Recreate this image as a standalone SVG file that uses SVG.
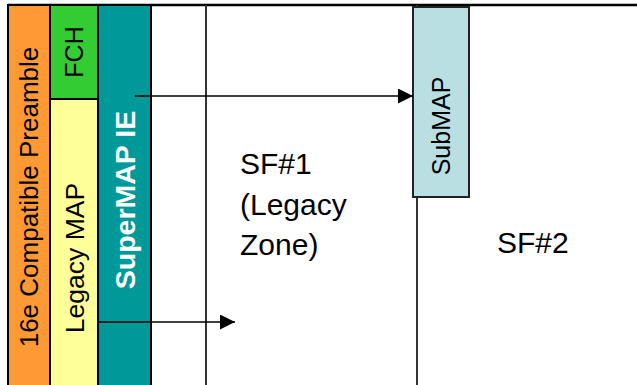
<svg xmlns="http://www.w3.org/2000/svg" width="637" height="385" viewBox="0 0 637 385">
  <style>
    .lbl { font-family: "Liberation Sans", Arial, sans-serif; fill: #000; }
    .box { stroke: #000; stroke-width: 2; }
    .wire { stroke: #000; stroke-width: 1.6; fill: none; }
    .div { stroke: #333; stroke-width: 2; fill: none; }
  </style>
  <defs>
    <marker id="head" viewBox="0 0 10 10" refX="10" refY="5" markerWidth="16" markerHeight="15" markerUnits="userSpaceOnUse" orient="auto">
      <path d="M0,0 L10,5 L0,10 z" fill="#000"/>
    </marker>
  </defs>
  <rect width="637" height="385" fill="#fff"/>

  <!-- frame: top edge and zone dividers -->
  <g id="frame">
    <line x1="8" y1="5" x2="637" y2="5" stroke="#000" stroke-width="2.5"/>
    <line class="div" x1="206" y1="5" x2="206" y2="385"/>
    <line class="div" x1="417" y1="5" x2="417" y2="385"/>
  </g>

  <g id="preamble">
    <rect class="box" x="8" y="5" width="42" height="382" fill="#FF9933"/>
    <text class="lbl" transform="translate(38,197) rotate(-90)" text-anchor="middle" font-size="26">16e Compatible Preamble</text>
  </g>

  <g id="fch">
    <rect class="box" x="50" y="5" width="48" height="94" fill="#33CC33"/>
    <text class="lbl" transform="translate(83,52) rotate(-90)" text-anchor="middle" font-size="25">FCH</text>
  </g>

  <g id="legacy-map">
    <rect class="box" x="50" y="99" width="48" height="288" fill="#FFFF99"/>
    <text class="lbl" transform="translate(84,258) rotate(-90)" text-anchor="middle" font-size="26.5">Legacy MAP</text>
  </g>

  <g id="supermap-ie">
    <rect class="box" x="98" y="5" width="53" height="382" fill="#009999"/>
    <text class="lbl" transform="translate(135,200) rotate(-90)" text-anchor="middle" font-size="28.5" font-weight="bold" style="fill:#fff">SuperMAP IE</text>
  </g>

  <g id="submap">
    <rect x="413" y="7" width="56" height="190" fill="#B9DFE3" stroke="#222" stroke-width="2"/>
    <text class="lbl" transform="translate(450,126) rotate(-90)" text-anchor="middle" font-size="25">SubMAP</text>
  </g>

  <g id="sf1">
    <text class="lbl" font-size="30">
      <tspan x="240" y="174">SF#1</tspan>
      <tspan x="240" y="215">(Legacy</tspan>
      <tspan x="240" y="255">Zone)</tspan>
    </text>
  </g>

  <g id="sf2">
    <text class="lbl" x="497" y="253" font-size="30">SF#2</text>
  </g>

  <g id="connectors">
    <line class="wire" x1="135" y1="96" x2="413" y2="96" marker-end="url(#head)"/>
    <line class="wire" x1="98" y1="322" x2="235" y2="322" marker-end="url(#head)"/>
  </g>
</svg>
